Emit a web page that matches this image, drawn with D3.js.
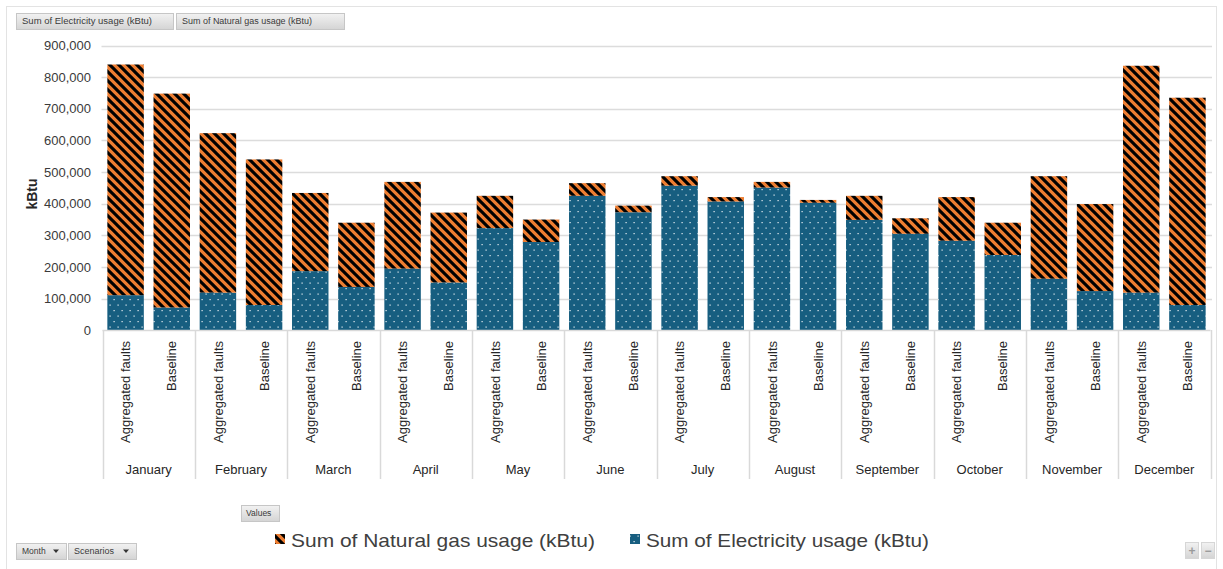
<!DOCTYPE html>
<html>
<head>
<meta charset="utf-8">
<script src="https://cdn.jsdelivr.net/npm/d3@7"></script>
<style>
  html, body { margin: 0; padding: 0; background: #ffffff; }
  svg { display: block; font-family: "Liberation Sans", Arial, sans-serif; }
</style>
</head>
<body>
<svg id="chart" width="1223" height="569"></svg>
<script>
// Monthly energy use by scenario (kBtu)
const months = ["January","February","March","April","May","June","July","August","September","October","November","December"];
const scenarios = ["Aggregated faults","Baseline"];

const electricityFaults   = [111000,119000,187000,195000,323000,425000,457000,451000,349000,283000,163000,119000];
const gasFaults           = [729000,504000,247000,274000,102000, 40000, 30000, 18000, 76000,138000,324000,717000];
const electricityBaseline = [ 72000, 80000,137000,151000,279000,373000,407000,403000,305000,238000,124000, 80000];
const gasBaseline         = [676000,460000,203000,221000, 71000, 21000, 14000,  9000, 49000,102000,275000,655000];

const yTicks = [0,100000,200000,300000,400000,500000,600000,700000,800000,900000];
const seriesNames = ["Sum of Natural gas usage (kBtu)","Sum of Electricity usage (kBtu)"];
const fieldButtons = ["Sum of Electricity usage (kBtu)","Sum of Natural gas usage (kBtu)"];
const axisButtons = ["Month","Scenarios"];

// one row per month/scenario pair
const rows = [];
months.forEach((m, i) => {
  rows.push({ key: m + "|" + scenarios[0], month: m, scenario: scenarios[0], electricity: electricityFaults[i], gas: gasFaults[i] });
  rows.push({ key: m + "|" + scenarios[1], month: m, scenario: scenarios[1], electricity: electricityBaseline[i], gas: gasBaseline[i] });
});

const svg = d3.select("#chart");
const defs = svg.append("defs");

// black wide downward diagonal on orange
const stripe = defs.append("pattern").attr("id", "gasFill")
  .attr("patternUnits", "userSpaceOnUse").attr("width", 9).attr("height", 9);
stripe.append("rect").attr("width", 9).attr("height", 9).attr("fill", "#ED7D31");
stripe.append("path")
  .attr("d", "M0,0L9,9M-4.5,4.5L4.5,13.5M4.5,-4.5L13.5,4.5")
  .attr("stroke", "#000").attr("stroke-width", 3.1);

// small white dots on blue
const dots = defs.append("pattern").attr("id", "elecFill")
  .attr("patternUnits", "userSpaceOnUse").attr("width", 8).attr("height", 11);
dots.append("rect").attr("width", 8).attr("height", 11).attr("fill", "#175E80");
dots.append("rect").attr("x", 1.5).attr("y", 2).attr("width", 1.2).attr("height", 1.2).attr("fill", "#e8f0f4");
dots.append("rect").attr("x", 5.5).attr("y", 7.5).attr("width", 1.2).attr("height", 1.2).attr("fill", "#e8f0f4");

// button gradient
const grad = defs.append("linearGradient").attr("id", "btnGrad").attr("x1", 0).attr("x2", 0).attr("y1", 0).attr("y2", 1);
grad.append("stop").attr("offset", "0%").attr("stop-color", "#f2f2f2");
grad.append("stop").attr("offset", "100%").attr("stop-color", "#d4d4d4");

// outer frame
svg.append("rect").attr("x", 6.5).attr("y", 6.5).attr("width", 1210).attr("height", 600)
  .attr("fill", "none").attr("stroke", "#e3e3e3");

const plotLeft = 102.5, plotRight = 1210.5, plotTop = 45.5, plotBottom = 330.3;

const y = d3.scaleLinear().domain([0, 900000]).range([plotBottom, plotTop]);
const xMonth = d3.scaleBand().domain(months).range([plotLeft, plotRight]);
const x = d3.scaleBand().domain(rows.map(d => d.key)).range([plotLeft, plotRight])
  .paddingInner(0.21).paddingOuter(0.105);

// gridlines
svg.append("g").selectAll("line").data(yTicks.filter(t => t > 0)).join("line")
  .attr("x1", 101.5).attr("x2", 1212)
  .attr("y1", d => Math.round(y(d)) + 0.5).attr("y2", d => Math.round(y(d)) + 0.5)
  .attr("stroke", "#dcdcdc").attr("stroke-width", 1.6);

// y axis labels
const yAxis = d3.axisLeft(y).tickValues(yTicks).tickSize(0).tickPadding(0)
  .tickFormat(d3.format(","));
const yg = svg.append("g").attr("transform", "translate(91,0)").call(yAxis);
yg.select(".domain").remove();
yg.selectAll("text").attr("font-size", 13).attr("fill", "#3a3a3a")
  .attr("font-family", "'Liberation Sans', Arial, sans-serif");

svg.append("text")
  .attr("transform", "translate(36.5,194) rotate(-90)")
  .attr("text-anchor", "middle")
  .attr("font-size", 14).attr("font-weight", "bold").attr("fill", "#262626")
  .text("kBtu");

// stacked bars: electricity at the bottom, natural gas above
const barG = svg.append("g");
barG.selectAll("rect.elec").data(rows).join("rect").attr("class", "elec")
  .attr("x", d => x(d.key)).attr("width", x.bandwidth())
  .attr("y", d => y(d.electricity)).attr("height", d => y(0) - y(d.electricity))
  .attr("fill", "url(#elecFill)");
barG.selectAll("rect.gas").data(rows).join("rect").attr("class", "gas")
  .attr("x", d => x(d.key)).attr("width", x.bandwidth())
  .attr("y", d => y(d.electricity + d.gas)).attr("height", d => y(d.electricity) - y(d.electricity + d.gas))
  .attr("fill", "url(#gasFill)");

// category area: base line and month separators
const axisColor = "#d9d9d9";
svg.append("line").attr("x1", plotLeft).attr("x2", plotRight).attr("y1", 330.5).attr("y2", 330.5)
  .attr("stroke", axisColor).attr("stroke-width", 1.5);
svg.append("g").selectAll("line").data(months.map(m => xMonth(m)).concat([plotRight])).join("line")
  .attr("x1", d => Math.round(d) + 0.5).attr("x2", d => Math.round(d) + 0.5)
  .attr("y1", 330).attr("y2", 479)
  .attr("stroke", axisColor).attr("stroke-width", 1.5);

// scenario labels (vertical)
svg.append("g").selectAll("text").data(rows).join("text")
  .attr("transform", d => `translate(${x(d.key) + x.bandwidth() / 2},341) rotate(-90)`)
  .attr("dy", "0.36em")
  .attr("text-anchor", "end")
  .attr("font-size", 13).attr("fill", "#262626")
  .text(d => d.scenario);

// month labels
svg.append("g").selectAll("text").data(months).join("text")
  .attr("x", d => xMonth(d) + xMonth.bandwidth() / 2).attr("y", 474)
  .attr("text-anchor", "middle")
  .attr("font-size", 13).attr("fill", "#262626")
  .text(d => d);

// pivot field buttons
function button(g, x0, y0, w, h, label, fs, arrow) {
  const b = g.append("g").attr("transform", `translate(${x0},${y0})`);
  b.append("rect").attr("x", 0.5).attr("y", 0.5).attr("width", w).attr("height", h)
    .attr("fill", "url(#btnGrad)").attr("stroke", "#c6c6c6");
  const t = b.append("text").attr("x", 6).attr("y", h / 2 + 0.5).attr("dy", "0.35em")
    .attr("font-size", fs).attr("fill", "#3a3a3a").text(label);
  if (arrow) {
    b.append("path").attr("d", `M${w - 13},${h / 2 - 1.5}h6l-3,3.5z`).attr("fill", "#333");
  }
  return t;
}
const btns = svg.append("g");
button(btns, 16, 13, 157, 16, fieldButtons[0], 8.5).attr("textLength", 130).attr("lengthAdjust", "spacingAndGlyphs");
button(btns, 176, 13, 168, 16, fieldButtons[1], 8.5).attr("textLength", 130).attr("lengthAdjust", "spacingAndGlyphs");
button(btns, 241, 505, 38, 16, "Values", 8.5).attr("x", 5);
button(btns, 16, 543, 50, 16, axisButtons[0], 8.5, true);
button(btns, 68, 543, 68, 16, axisButtons[1], 8.5, true).attr("textLength", 40).attr("lengthAdjust", "spacingAndGlyphs");

// zoom buttons
const zb = svg.append("g");
[[1185, "+"], [1201, "−"]].forEach(([bx, s]) => {
  zb.append("rect").attr("x", bx + 0.5).attr("y", 542.5).attr("width", 13).attr("height", 16)
    .attr("fill", "url(#btnGrad)").attr("stroke", "#d6d6d6");
  zb.append("text").attr("x", bx + 7).attr("y", 551).attr("dy", "0.35em").attr("text-anchor", "middle")
    .attr("font-size", 12).attr("font-weight", "bold").attr("fill", "#9a9a9a").text(s);
});

// legend
const legend = svg.append("g");
const legendItems = [
  { name: seriesNames[0], fill: "url(#gasFill)", sx: 275, tx: 291, len: 304 },
  { name: seriesNames[1], fill: "url(#elecFill)", sx: 630, tx: 646, len: 283 }
];
legendItems.forEach(it => {
  legend.append("rect").attr("x", it.sx).attr("y", 534).attr("width", 10).attr("height", 10).attr("fill", it.fill);
  legend.append("text").attr("x", it.tx).attr("y", 547)
    .attr("font-size", 19).attr("fill", "#404040")
    .attr("textLength", it.len).attr("lengthAdjust", "spacingAndGlyphs")
    .text(it.name);
});
</script>
</body>
</html>
